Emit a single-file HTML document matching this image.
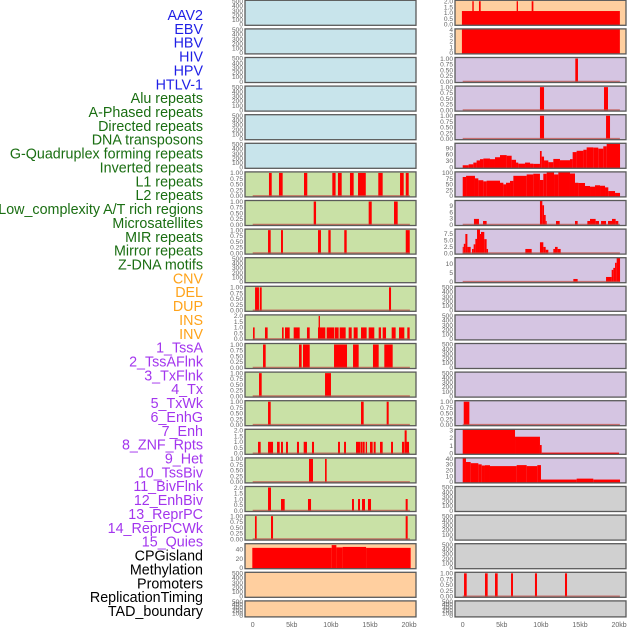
<!DOCTYPE html>
<html><head><meta charset="utf-8">
<style>
html,body{margin:0;padding:0;background:#fff;}
svg{display:block;}
text{font-family:"Liberation Sans",sans-serif;}
</style></head>
<body>
<svg id="chart" width="630" height="630" viewBox="0 0 630 630" xmlns="http://www.w3.org/2000/svg"></svg>
<script>
// ---------------- data ----------------
const labelNames = ["AAV2","EBV","HBV","HIV","HPV","HTLV-1","Alu repeats","A-Phased repeats","Directed repeats","DNA transposons","G-Quadruplex forming repeats","Inverted repeats","L1 repeats","L2 repeats","Low_complexity A/T rich regions","Microsatellites","MIR repeats","Mirror repeats","Z-DNA motifs","CNV","DEL","DUP","INS","INV","1_TssA","2_TssAFlnk","3_TxFlnk","4_Tx","5_TxWk","6_EnhG","7_Enh","8_ZNF_Rpts","9_Het","10_TssBiv","11_BivFlnk","12_EnhBiv","13_ReprPC","14_ReprPCWk","15_Quies","CPGisland","Methylation","Promoters","ReplicationTiming","TAD_boundary"];
const labelGroups = [0,0,0,0,0,0,1,1,1,1,1,1,1,1,1,1,1,1,1,2,2,2,2,2,3,3,3,3,3,3,3,3,3,3,3,3,3,3,3,4,4,4,4,4];
const xTickValues = [0,5,10,15,20];
const xTickLabels = ["0","5kb","10kb","15kb","20kb"];

// segments: [startKb, endKb, value]
const leftRow6 = [[2.08,2.43,1],[3.36,3.83,1],[6.56,6.98,1],[10.18,10.6,1],[10.9,11.38,1],[12.44,12.91,1],[13.47,14.46,1],[16.06,16.62,1],[18.84,19.31,1],[19.57,19.95,1]];
const leftRow7 = [[7.8,8.1,1],[14.83,15.22,1],[18.07,18.54,1]];
const leftRow8 = [[1.96,2.3,1],[3.62,3.87,1],[8.35,8.73,1],[9.67,9.97,1],[11.71,12.02,1],[19.57,20.08,1]];
const leftRow10 = [[0.3,0.8,1],[0.9,1.15,1],[17.43,17.69,1]];
const leftRow11 = [[0.04,0.25,1],[1.57,1.91,1],[3.75,3.96,1],[4.13,4.73,1],[5.24,6.01,1],[6.94,7.29,1],[8.35,9.29,1],[8.43,8.6,2],[9.46,10.4,1],[10.48,10.99,1],[11.12,11.89,1],[12.27,12.66,1],[12.91,13.42,1],[13.85,14.57,1],[14.83,15.55,1],[16.11,16.41,1],[16.62,17.05,1],[17.77,18.28,1],[18.71,19.39,1],[19.77,20.07,1]];
const leftRow12 = [[1.32,1.66,1],[5.92,6.26,1],[6.43,7.29,1],[10.4,12.06,1],[12.83,13.55,1],[15.38,16.11,1],[16.83,17.9,1]];
const leftRow13 = [[0.81,1.15,1],[9.25,10.01,1]];
const leftRow14 = [[1.96,2.3,1],[13.85,14.19,1],[17.13,17.39,1]];
const leftRow15 = [[0.68,1.02,1],[1.96,2.6,1],[3.11,3.45,1],[3.62,3.87,1],[4.26,4.51,1],[5.66,5.92,1],[6.52,6.94,1],[7.58,7.84,1],[10.91,11.16,1],[11.68,11.93,1],[13.21,13.72,1],[13.77,14.02,1],[14.06,14.32,1],[14.45,14.62,1],[15.0,15.34,1],[15.47,15.72,1],[16.28,16.62,1],[17.69,17.94,1],[19.09,19.35,1],[19.39,19.99,1],[19.43,19.69,2]];
const leftRow16 = [[7.2,7.71,1],[9.25,9.46,1]];
const leftRow17 = [[1.96,2.34,2],[3.62,4.09,1],[7.07,7.46,1],[12.7,12.95,1],[13.47,13.72,1],[13.98,14.36,1],[14.74,15.13,1],[19.56,19.82,1]];
const leftRow18 = [[0.29,0.51,1],[2.34,2.6,1],[19.56,19.82,1]];
const leftCpg = [[-0.05,10.1,43],[10.1,10.7,49],[10.7,11.5,44],[11.5,14.5,45],[14.5,20.2,43]];

const rightRow0 = [[-0.1,20.1,1.15],[1.23,1.41,2],[2.08,2.3,2],[6.9,7.07,2],[8.82,9.04,2]];
const rightRow1 = [[-0.1,20.1,4]];
const rightRow2 = [[14.4,14.74,1]];
const rightRow3 = [[9.88,10.4,1],[18.07,18.58,1]];
const rightRow4 = [[9.88,10.4,1],[18.33,18.84,1]];
const rightRow5Edges = [0,0.76,1.36,1.78,2.21,2.64,3.49,4.13,4.77,5.62,6.26,6.82,7.11,7.97,8.61,9.03,9.88,10.1,10.4,10.95,11.59,12.44,13.72,14.06,14.57,15.43,15.85,16.7,17.34,17.98,18.41,20.12];
const rightRow5Values = [9.5,14,22,32,38,41,38,47,57,54,35,22,17,22,17,16,76,50,32,24,39,33,38,71,77,82,93,92,87,98,110];
const rightRow6Edges = [0,0.43,1.57,2.0,2.64,3.06,4.77,5.2,5.54,6.05,6.48,8.18,9.03,9.88,10.31,10.74,11.68,12.23,13.72,14.36,14.79,15.64,16.28,16.92,17.56,18.2,18.62,19.48,20.12];
const rightRow6Values = [82,87,76,68,63,66,57,50,57,65,87,93,96,69,96,103,93,103,97,57,56,43,40,46,44,37,21,13];
const rightRow7 = [[1.44,2.08,2.7],[2.6,3.06,1.7],[9.88,10.18,11.4],[10.18,10.4,9.3],[10.4,10.61,4.6],[10.61,10.74,1.7],[11.93,12.4,1.7],[14.36,14.7,1.7],[15.94,16.28,1.7],[16.28,17.0,2.7],[17.0,17.43,1.7],[17.69,18.33,1.7],[18.58,19.09,1.7],[19.09,19.56,2.7],[19.56,19.9,1.7]];
const rightRow8Edges = [0,0.14,0.34,0.6,1.02];
const rightRow8Values = [2.4,3.6,7.4,2.4];
const rightRow8b = [[1.19,1.4,1.6],[1.4,1.62,3.4],[1.62,1.83,5.5],[1.83,2.21,9.2],[2.21,2.34,7.4],[2.34,2.76,8.2],[2.76,3.06,5.4],[3.06,3.24,1.6],[8.01,8.82,1.6],[9.88,10.31,4.2],[10.31,10.61,2.4],[10.61,10.95,1.3],[11.59,11.8,1.6],[11.8,12.14,2.4],[12.14,12.53,1.6]];
const rightRow9 = [[14.15,14.7,1.5],[18.33,19.05,2.6],[19.05,19.26,6.5],[19.26,19.48,7.6],[19.48,19.69,10.4],[19.69,20.12,13.1]];
const rightRow14 = [[0.13,0.85,1]];
const rightRow15 = [[0,6.69,3.08],[6.69,9.88,2.14],[9.88,10.1,1.07],[10.1,19.99,0.09]];
const rightRow16Edges = [0,0.42,1.02,2.0,2.43,2.85,3.49,6.9,8.18,9.54,10.01,14.57,16.7,20.12];
const rightRow16Values = [40,34,32,30,28,28.5,27,28.7,27,28.7,4,5.6,4];
const rightRow20 = [[0.17,0.51,1],[2.85,3.19,1],[4.13,4.47,1],[6.18,6.43,1],[9.24,9.5,1],[13.08,13.34,1]];

// --------------- helpers ---------------
function stepToSegs(edges, vals){ const s=[]; for(let i=0;i<vals.length;i++) s.push([edges[i],edges[i+1],vals[i]]); return s; }
const T500=["0","100","200","300","400","500"], T1=["0.00","0.25","0.50","0.75","1.00"], T2=["0.0","0.5","1.0","1.5","2.0"];
const C={blue:"#c8e4eb",green:"#c9e1a6",orange:"#ffcf9f",purple:"#d5c5e2",gray:"#d0d0d0"};
function P(bg,ticks,segs,vTop,base){return {bg,ticks,segs,vTop,base};}
const leftPanels=[
 P(C.blue,T500,null),P(C.blue,T500,null),P(C.blue,T500,null),P(C.blue,T500,null),P(C.blue,T500,null),P(C.blue,T500,null),
 P(C.green,T1,leftRow6,null,1),P(C.green,T1,leftRow7,null,1),P(C.green,T1,leftRow8,null,1),P(C.green,T500,null),
 P(C.green,T1,leftRow10,null,1),P(C.green,T2,leftRow11,null,1),P(C.green,T1,leftRow12,null,1),P(C.green,T1,leftRow13,null,1),
 P(C.green,T1,leftRow14,null,1),P(C.green,T2,leftRow15,null,1),P(C.green,T1,leftRow16,null,1),P(C.green,T2,leftRow17,null,1),
 P(C.green,T1,leftRow18,null,1),P(C.orange,["0","20","40"],leftCpg,52),P(C.orange,T500,null),P(C.orange,T500,null)];
const rightPanels=[
 P(C.orange,T2,rightRow0,2.08),P(C.orange,["0","1","2","3","4"],rightRow1,4.1),
 P(C.purple,T1,rightRow2,null,1),P(C.purple,T1,rightRow3,null,1),P(C.purple,T1,rightRow4,null,1),
 P(C.purple,["0","30","60","90"],stepToSegs(rightRow5Edges,rightRow5Values),112),
 P(C.purple,["0","25","50","75","100"],stepToSegs(rightRow6Edges,rightRow6Values),104),
 P(C.purple,["0","3","6","9"],rightRow7,11.6,1),
 P(C.purple,["0.0","2.5","5.0","7.5"],stepToSegs(rightRow8Edges,rightRow8Values).concat(rightRow8b),9.3,1),
 P(C.purple,["0","5","10"],rightRow9,13.2,1),
 P(C.purple,T500,null),P(C.purple,T500,null),P(C.purple,T500,null),P(C.purple,T500,null),
 P(C.purple,T1,rightRow14,null,1),P(C.purple,["0","1","2","3"],rightRow15,3.1),
 P(C.purple,["0","10","20","30","40"],stepToSegs(rightRow16Edges,rightRow16Values),41),
 P(C.gray,T500,null),P(C.gray,T500,null),P(C.gray,T500,null),P(C.gray,T1,rightRow20,null,1),P(C.gray,T500,null)];

const NS="http://www.w3.org/2000/svg";
const svg=document.getElementById("chart");
function mk(tag,attrs,parent){const e=document.createElementNS(NS,tag);for(const k in attrs)e.setAttribute(k,attrs[k]);(parent||svg).appendChild(e);return e;}

// labels
const labelColors=["#1f1fe6","#1a6e12","#ffa31a","#a335ee","#000000"];
labelNames.forEach((n,i)=>{
  const t=mk("text",{x:203,y:(15+i*13.86+5).toFixed(1),"text-anchor":"end","font-size":"14.3",fill:labelColors[labelGroups[i]]});
  
  
  t.textContent=n;
});

function drawColumn(panels,x0,x1,colName){
  const zeroX=x0+7.7, kbPx=7.82;
  const xs=kb=>zeroX+kb*kbPx;
  panels.forEach((p,i)=>{
    const top=0.3+28.6*i, h=(i===21?16:25), bottom=top+h;
    const g=mk("g",{});
    
    
    mk("rect",{x:x0,y:top,width:x1-x0,height:h,fill:p.bg},g);
    const tickMax=parseFloat(p.ticks[p.ticks.length-1]);
    const vTop=p.vTop||(p.ticks===T500?520:tickMax*1.045);
    const ys=v=>(bottom-1)-v/vTop*(h-1);
    if(p.segs){
      p.segs.forEach(s=>{
        const r=mk("rect",{x:xs(s[0]).toFixed(2),y:ys(s[2]).toFixed(2),width:Math.max(0.8,xs(s[1])-xs(s[0])).toFixed(2),height:Math.max(0,bottom-ys(s[2])).toFixed(2),fill:"#ff0000"},g);
        
        
      });
    }
    if(p.base){
      mk("line",{x1:xs(0),x2:xs(20.1),y1:bottom-1,y2:bottom-1,stroke:"#c0504a","stroke-width":1.6,"stroke-opacity":0.75},g);
    }
    mk("rect",{x:x0,y:top,width:x1-x0,height:h,fill:"none",stroke:"#5a5a5a","stroke-width":1.3},g);
    p.ticks.forEach(tk=>{
      const v=parseFloat(tk);
      const t=mk("text",{x:x0-2,y:(ys(v)+2.3).toFixed(2),"text-anchor":"end","font-size":"6.6",fill:"#666"},g);
      
      
      t.textContent=tk;
    });
  });
  xTickValues.forEach((v,k)=>{
    const t=mk("text",{x:xs(v),y:627,"text-anchor":"middle","font-size":"7",fill:"#666"});
    
    
    t.textContent=xTickLabels[k];
  });
}
drawColumn(leftPanels,245,416,'left');
drawColumn(rightPanels,455,626,'right');
</script>
</body></html>
